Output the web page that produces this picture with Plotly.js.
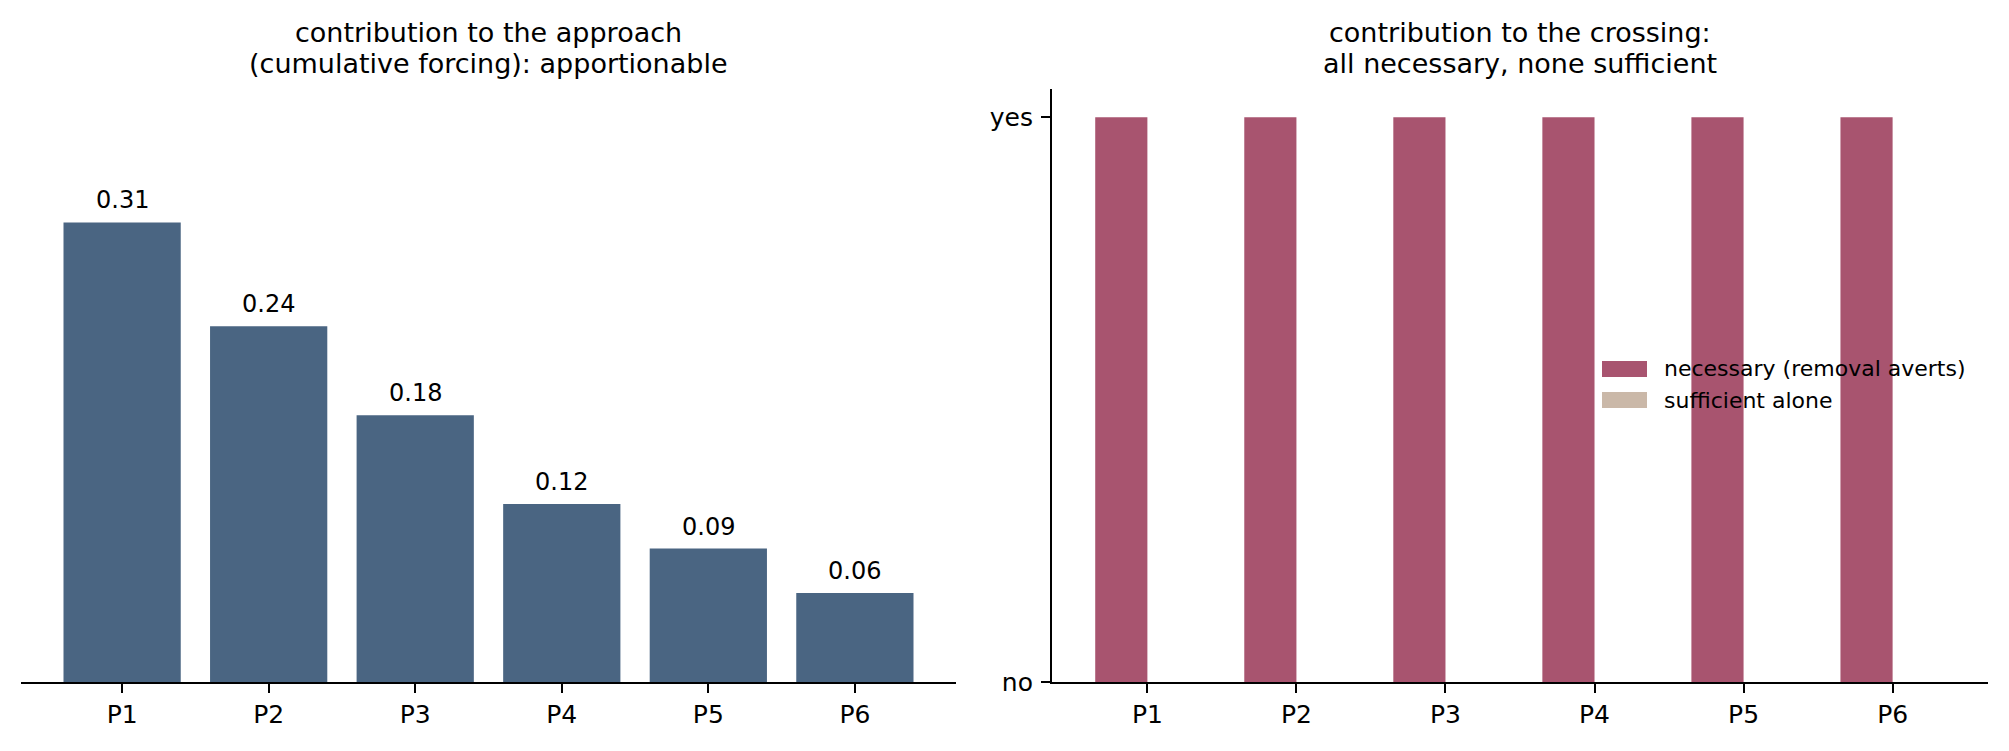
<!DOCTYPE html>
<html>
<head>
<meta charset="utf-8">
<script src="https://cdn.plot.ly/plotly-3.0.1.min.js"></script>
<style>
  body { margin: 0; background: #fff; }
  #chart { width: 2009px; height: 751px; }
</style>
</head>
<body>
<div id="chart"></div>
<script>
// players and their shares
var players = ['P1', 'P2', 'P3', 'P4', 'P5', 'P6'];
var approachShare = [0.31, 0.24, 0.18, 0.12, 0.09, 0.06];
var approachLabels = ['0.31', '0.24', '0.18', '0.12', '0.09', '0.06'];

// crossing: 1 = yes, 0 = no
var necessary = [1, 1, 1, 1, 1, 1];
var sufficient = [0, 0, 0, 0, 0, 0];
var crossTickVals = [0, 1];
var crossTickText = ['no', 'yes'];

var seriesNames = ['necessary (removal averts)', 'sufficient alone'];
var titleLines = [
  ['contribution to the approach', '(cumulative forcing): apportionable'],
  ['contribution to the crossing:', 'all necessary, none sufficient']
];

var blue = '#4a6582';
var red = '#a8546f';
var sand = '#cab8a8';
var font = 'DejaVu Sans, sans-serif';

var W = 2009, H = 751;
function px(x) { return x / W; }
function py(y) { return (H - y) / H; }

var traces = [
  {
    type: 'bar', x: players, y: approachShare, width: 0.8,
    marker: { color: blue }, xaxis: 'x', yaxis: 'y', hoverinfo: 'none'
  },
  {
    type: 'bar', name: seriesNames[0], x: players, y: necessary,
    width: 0.35, offset: -0.35,
    marker: { color: red }, xaxis: 'x2', yaxis: 'y2', hoverinfo: 'none'
  },
  {
    type: 'bar', name: seriesNames[1], x: players, y: sufficient,
    width: 0.35, offset: 0,
    marker: { color: sand }, xaxis: 'x2', yaxis: 'y2', hoverinfo: 'none'
  }
];

var annotations = [];
for (var i = 0; i < players.length; i++) {
  annotations.push({
    xref: 'x', yref: 'y', x: players[i], y: approachShare[i],
    text: approachLabels[i], showarrow: false, yanchor: 'bottom', yshift: 6,
    font: { family: font, size: 24, color: '#000' }
  });
}
// panel titles, one annotation per line
var titleCenters = [488.5, 1520];
var lineBottoms = [50, 81];
for (var t = 0; t < titleLines.length; t++) {
  for (var l = 0; l < 2; l++) {
    annotations.push({
      xref: 'paper', yref: 'paper', x: px(titleCenters[t]), y: py(lineBottoms[l]),
      xanchor: 'center', yanchor: 'bottom', text: titleLines[t][l], showarrow: false,
      font: { family: font, size: 27, color: '#000' }
    });
  }
}

// legend, drawn by hand (no frame, wide swatches)
var legendColors = [red, sand];
var legendRows = [369, 400];
var shapes = [];
for (var k = 0; k < seriesNames.length; k++) {
  shapes.push({
    type: 'rect', xref: 'paper', yref: 'paper',
    x0: px(1602), x1: px(1647), y0: py(legendRows[k] + 8), y1: py(legendRows[k] - 8),
    fillcolor: legendColors[k], line: { width: 0 }
  });
  annotations.push({
    xref: 'paper', yref: 'paper', x: px(1662), y: py(legendRows[k]),
    xanchor: 'left', yanchor: 'middle', text: seriesNames[k], showarrow: false,
    font: { family: font, size: 22, color: '#000' }
  });
}

var axisCommon = {
  showgrid: false, zeroline: false, showline: true, linecolor: '#000', linewidth: 2,
  ticks: 'outside', ticklen: 9, tickwidth: 2, tickcolor: '#000',
  tickfont: { family: font, size: 25, color: '#000' }, fixedrange: true
};

var layout = {
  width: W, height: H,
  margin: { l: 0, r: 0, t: 0, b: 0 },
  paper_bgcolor: '#fff', plot_bgcolor: '#fff',
  showlegend: false,
  font: { family: font },
  xaxis: Object.assign({}, axisCommon, {
    domain: [px(21), px(956)], range: [-0.69, 5.69], anchor: 'y',
    type: 'category'
  }),
  yaxis: {
    domain: [py(682), py(89)], range: [0, 0.40], visible: false, fixedrange: true, anchor: 'x'
  },
  xaxis2: Object.assign({}, axisCommon, {
    domain: [px(1052), px(1988)], range: [-0.64, 5.64], anchor: 'y2',
    type: 'category'
  }),
  yaxis2: Object.assign({}, axisCommon, {
    domain: [py(682), py(89)], range: [0, 1.05], anchor: 'x2',
    tickvals: crossTickVals, ticktext: crossTickText, ticklabelstandoff: 3
  }),
  annotations: annotations,
  shapes: shapes
};

Plotly.newPlot('chart', traces, layout, { staticPlot: true, displayModeBar: false });
</script>
</body>
</html>
